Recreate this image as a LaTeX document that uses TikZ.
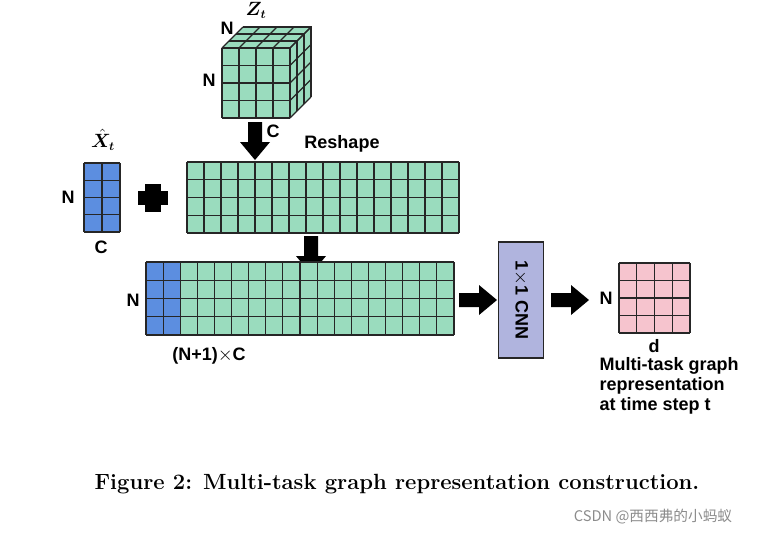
\documentclass[tikz,border=0pt]{standalone}
\usepackage{amsmath,amssymb,bm}
\usepackage{fontspec}
\newfontfamily\lab{Liberation Sans}
\newfontfamily\cjk{Noto Sans CJK SC}
\definecolor{mint}{RGB}{154,220,190}
\definecolor{cblue}{RGB}{92,142,224}
\definecolor{pinkc}{RGB}{246,196,206}
\definecolor{lav}{RGB}{176,180,222}
\tikzset{
  lbl/.style={font=\lab\bfseries\fontsize{13.5}{15}\selectfont, inner sep=1pt},
  cell/.style={draw=black!85, line width=0.9pt}
}
% block arrow: \barrow{x}{y}{angle}
\newcommand{\barrow}[3]{%
  \fill[black, shift={(#1,#2)}, rotate=#3] (0,-7) -- (20,-7) -- (20,-15) -- (38,0) -- (20,15) -- (20,7) -- (0,7) -- cycle;}
% cell grid: \cgrid{x0}{y0}{x1}{y1}{cols}{rows}
\newcommand{\cgrid}[6]{%
  \foreach \i in {0,...,#5} {\draw[cell] ({#1+(#3-#1)*\i/#5},#2) -- ({#1+(#3-#1)*\i/#5},#4);}
  \foreach \j in {0,...,#6} {\draw[cell] (#1,{#2+(#4-#2)*\j/#6}) -- (#3,{#2+(#4-#2)*\j/#6});}}
\begin{document}
\begin{tikzpicture}[x=0.75pt, y=-0.75pt]
  \useasboundingbox (0,0) rectangle (772,537);
  % cube Z_t
  \fill[mint] (222,48) -- (243,27) -- (311,27) -- (311,97) -- (290,118) -- (222,118) -- cycle;
  \foreach \i in {0,...,4} {
    \draw[cell] (222+17*\i,48) -- (243+17*\i,27);
    \draw[cell] (290,48+17.5*\i) -- (311,27+17.5*\i);
  }
  \foreach \k in {1,2,3} {
    \draw[cell] (222+7*\k,48-7*\k) -- (290+7*\k,48-7*\k) -- (290+7*\k,118-7*\k);
  }
  \cgrid{222}{48}{290}{118}{4}{4}
  \node[lbl] (zt) at (256,10) {$\bm{Z_t}$};
  \node[lbl] (cubeN1) at (227,28) {N};
  \node[lbl] (cubeN2) at (209,80) {N};
  \node[lbl] (cubeC) at (273,131) {C};
  % reshape arrow and grid
  \barrow{255}{122}{-90}
  \node[lbl] (reshape) at (342,144) {Reshape};
  \fill[mint] (187,162) rectangle (459,233);
  \cgrid{187}{162}{459}{233}{16}{4}
  % X hat
  \node[lbl] (xhat) at (103,140) {$\bm{\hat{X}_t}$};
  \fill[cblue] (84,163) rectangle (120,232);
  \cgrid{84}{163}{120}{232}{2}{4}
  \node[lbl] (xN) at (68,197) {N};
  \node[lbl] (xC) at (101,247) {C};
  % plus
  \fill[black] (145,184) rectangle (161,212);
  \fill[black] (138,191) rectangle (168,205);
  % concat
  \barrow{311}{236}{-90}
  \fill[mint] (146,262) rectangle (454,335);
  \fill[cblue] (146,262) rectangle (181,335);
  \cgrid{146}{262}{454}{335}{18}{4}
  \node[lbl] (cN) at (133,300) {N};
  \node[lbl] (cdim) at (209,356) {(N+1)$\times$C};
  % CNN
  \barrow{459}{300}{0}
  \node[draw=black!85, line width=0.9pt, fill=lav, minimum width=34pt, minimum height=87pt, inner sep=0pt] (cnn) at (521,300) {};
  \node[lbl, rotate=-90] at (cnn) {1$\times$1 CNN};
  \barrow{551}{300}{0}
  % output
  \fill[pinkc] (619,263) rectangle (690,333);
  \cgrid{619}{263}{690}{333}{4}{4}
  \node[lbl] (oN) at (606,298) {N};
  \node[lbl] (od) at (654,346) {d};
  \node[lbl, align=left, anchor=north west] (odesc) at (598,356) {Multi-task graph\\representation\\at time step t};
  % caption
  \node[font=\bfseries\fontsize{16.5}{18}\selectfont] (cap) at (397,484) {Figure 2: Multi-task graph representation construction.};
  \node[font=\cjk\fontsize{11}{12}\selectfont, text=black!45] (wm) at (653,517) {CSDN @西西弗的小蚂蚁};
\end{tikzpicture}
\end{document}
